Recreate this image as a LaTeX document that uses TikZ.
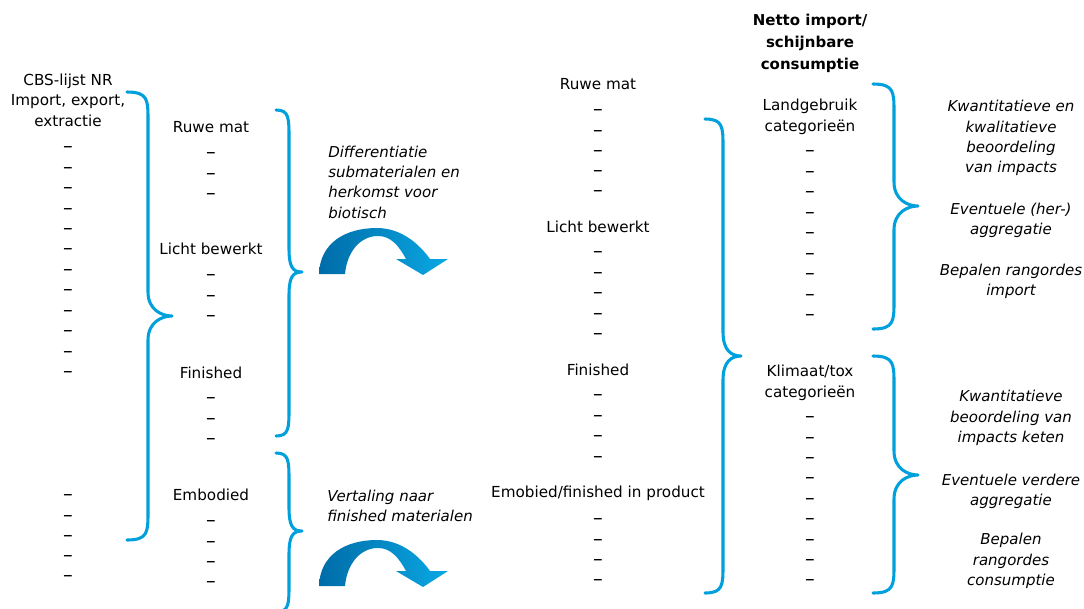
\documentclass[tikz,border=0pt]{standalone}
\usepackage{fontspec}
\setmainfont{DejaVu Sans}
\definecolor{bracecol}{RGB}{0,160,220}
\definecolor{arrdark}{RGB}{0,108,168}
\definecolor{arrlight}{RGB}{10,168,228}
\tikzset{
  txt/.style={font=\fontsize{11.4}{15.4}\selectfont, inner sep=0pt, align=center},
  ttl/.style={font=\fontsize{11.25}{16.5}\selectfont\bfseries, inner sep=0pt, align=center},
  itx/.style={font=\fontsize{11.25}{15.2}\selectfont\itshape, inner sep=0pt},
  dashn/.style={font=\fontsize{14.5}{15.4}\selectfont, inner sep=0pt, text height=0.56em, text depth=0pt},
  bracestyle/.style={draw=bracecol, line width=2.3pt, line cap=round, line join=round},
  arrowfill/.style={left color=arrdark, right color=arrlight}
}
% #1 xt, #2 xv, #3 xp, #4 yt, #5 yp, #6 yb
\newcommand\curlybrace[6]{%
  \draw[bracestyle] (#1,#4) .. controls (#2,#4) and (#2,#4+8) .. (#2,#4+28)
    -- (#2,#5-24) .. controls (#2,#5-6) and (#3-10,#5) .. (#3,#5)
    .. controls (#3-10,#5) and (#2,#5+6) .. (#2,#5+24)
    -- (#2,#6-28) .. controls (#2,#6-8) and (#2,#6) .. (#1,#6);}
\newcommand\bentarrow{%
  \shade[arrowfill] (319,274) .. controls (320,243) and (345,228) .. (377,228)
    .. controls (402,228) and (420,245) .. (430,259) -- (448,259) -- (423,275)
    -- (396,259) -- (406,259) .. controls (399,246) and (391,236) .. (378,236)
    .. controls (360,236) and (347,252) .. (345,274) -- cycle;}
\begin{document}
\begin{tikzpicture}[x=0.75pt,y=-0.75pt]
\useasboundingbox (0,0) rectangle (1084,608);
\clip (0,0) rectangle (1084,608);

% column 1
\node[txt] (cbs) at (68,100) {CBS-lijst NR\\Import, export,\\extractie};
\foreach \i in {0,...,11} \node[dashn] (ca\i) at (68,149+\i*20.45) {–};
\foreach \i in {0,...,4} \node[dashn] (cb\i) at (68,497+\i*20.3) {–};
\curlybrace{127}{148}{172}{92}{316}{540}

% column 2
\node[txt] (ruwe1) at (211,127) {Ruwe mat};
\foreach \i in {0,...,2} \node[dashn] (rd\i) at (211,155+\i*20.5) {–};
\node[txt] (licht1) at (211,249) {Licht bewerkt};
\foreach \i in {0,...,2} \node[dashn] (ld\i) at (211,277+\i*20.5) {–};
\node[txt] (fin1) at (211,373) {Finished};
\foreach \i in {0,...,2} \node[dashn] (fd\i) at (211,400+\i*20.5) {–};
\node[txt] (emb1) at (211,495) {Embodied};
\foreach \i in {0,...,3} \node[dashn] (ed\i) at (211,523+\i*20.4) {–};
\curlybrace{276}{289}{302}{110}{272}{436}
\curlybrace{276}{289}{302}{453}{531}{612}

% transitions
\node[itx, anchor=west, align=left] (diff) at (328,182) {Differentiatie\\submaterialen en\\herkomst voor\\biotisch};
\bentarrow
\node[itx, anchor=west, align=left] (vert) at (327,506) {Vertaling naar\\finished materialen};
\begin{scope}[shift={(0,312)}]
\bentarrow
\end{scope}

% column 3
\node[txt] (ruwe2) at (598,84) {Ruwe mat};
\foreach \i in {0,...,4} \node[dashn] (rr\i) at (598,112+\i*20.3) {–};
\node[txt] (licht2) at (598,227) {Licht bewerkt};
\foreach \i in {0,...,4} \node[dashn] (lr\i) at (598,254+\i*20.5) {–};
\node[txt] (fin2) at (598,370) {Finished};
\foreach \i in {0,...,3} \node[dashn] (fr\i) at (598,397+\i*20.5) {–};
\node[txt] (emb2) at (598,493) {Emobied/finished in product};
\foreach \i in {0,...,3} \node[dashn] (er\i) at (598,521+\i*20.4) {–};
\curlybrace{705}{723}{741}{119}{356}{593}

% column 4
\node[ttl] (netto) at (810,43) {Netto import/\\schijnbare\\consumptie};
\node[txt] (land) at (810,117) {Landgebruik\\categorieën};
\foreach \i in {0,...,8} \node[dashn] (lg\i) at (810,153+\i*20.5) {–};
\node[txt] (klim) at (810,383) {Klimaat/tox\\categorieën};
\foreach \i in {0,...,8} \node[dashn] (kt\i) at (810,419+\i*20.4) {–};
\curlybrace{873}{894}{918}{84}{206}{329}
\curlybrace{873}{894}{918}{356}{475}{593}

% column 5
\node[itx, align=center] (kwa1) at (1011,138) {Kwantitatieve en\\kwalitatieve\\beoordeling\\van impacts};
\node[itx, align=center] (agg1) at (1011,220) {Eventuele (her-)\\aggregatie};
\node[itx, align=center] (bep1) at (1011,281) {Bepalen rangordes\\import};
\node[itx, align=center] (kwa2) at (1011,418) {Kwantitatieve\\beoordeling van\\impacts keten};
\node[itx, align=center] (agg2) at (1011,491) {Eventuele verdere\\aggregatie};
\node[itx, align=center] (bep2) at (1011,561) {Bepalen\\rangordes\\consumptie};
\end{tikzpicture}
\end{document}
